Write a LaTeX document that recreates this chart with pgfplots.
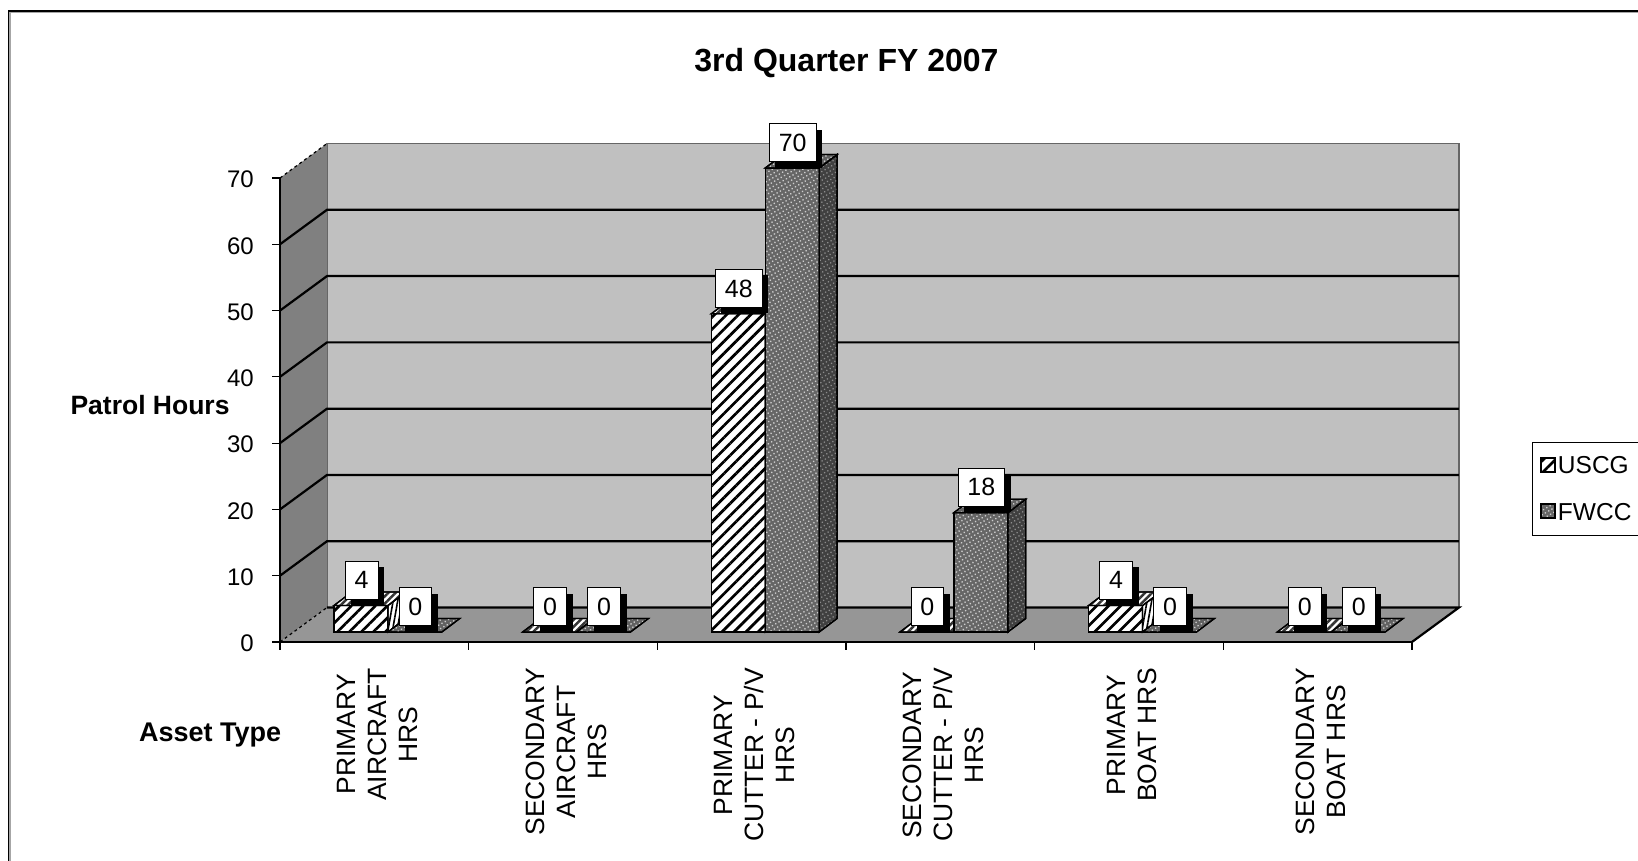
\documentclass[border=0pt]{standalone}
\usepackage{fontspec}
\setmainfont{Liberation Sans}
\usepackage{pgfplots}
\pgfplotsset{compat=1.18}
\usetikzlibrary{patterns,patterns.meta,shadows}
\definecolor{wallback}{HTML}{C0C0C0}
\definecolor{wallleft}{HTML}{808080}
\definecolor{floorc}{HTML}{969696}
\newcommand{\tf}{\fontsize{24}{31}\selectfont}
\tikzset{
 uscgpat/.style={pattern={Lines[angle=45,distance=8.5pt,line width=2.7pt]},pattern color=black},
 fwccpat/.style={pattern={Dots[radius=0.95pt,distance=3.8pt,angle=30]},pattern color=black!20},
 fwccside/.style={pattern={Dots[radius=0.9pt,distance=3.8pt,angle=30]},pattern color=black!45},
}
\pgfplotsset{
 uf/.style={draw=black,line width=1.3pt,fill=white,postaction={uscgpat}},
 us/.style={draw=black,line width=1.3pt,fill=white,postaction={pattern={Lines[angle=80,distance=4.5pt,line width=1.6pt]},pattern color=black},forget plot,no markers},
 ut/.style={draw=black,line width=1.3pt,fill=white,postaction={pattern={Lines[angle=45,distance=5pt,line width=2.5pt]},pattern color=black!80},forget plot,no markers},
 ff/.style={draw=black,line width=1.3pt,fill=black!60,postaction={fwccpat}},
 fs/.style={draw=black,line width=1.3pt,fill=black!75,postaction={fwccside},forget plot,no markers},
 ft/.style={draw=black,line width=1.3pt,fill=black!62,postaction={fwccpat},forget plot,no markers},
 lab/.style={draw=none,no markers,forget plot,nodes near coords,
   nodes near coords style={font=\fontsize{25}{31}\selectfont,fill=white,draw=black,line width=0.8pt,anchor=south,yshift=6pt,xshift=0.5pt,
     inner xsep=9.5pt,inner ysep=0pt,minimum height=38pt,
     general shadow={fill=black,shadow xshift=6pt,shadow yshift=-6pt}}},
 legimg/.style={legend image code/.code={\draw[##1,line width=2.4pt] (0pt,-6pt) rectangle (14pt,8pt);}},
}
\begin{document}
\begin{tikzpicture}[x=1pt,y=1pt]
\path[use as bounding box] (0pt,0pt) rectangle (1638pt,861pt);
\draw[gray!70,line width=1.4pt] (10pt,0pt) -- (10pt,848.5pt) -- (1638pt,848.5pt);
\draw[black,line width=1.4pt] (8.5pt,0pt) -- (8.5pt,850pt) -- (1638pt,850pt);
% walls, floor, axes
\begin{axis}[at={(280pt,219pt)},anchor=south west,scale only axis,width=1132pt,height=464pt,
 xmin=0,xmax=6,ymin=0,ymax=70,clip=false,axis on top,
 axis x line*=bottom,axis y line*=left,
 axis line style={-,black,line width=1.6pt},
 tick align=outside,tick style={black,line width=1.2pt},
 major tick length=8pt,minor tick length=8pt,major x tick style={draw=none},
 xtick={0.5,1.5,2.5,3.5,4.5,5.5},
 minor xtick={0,1,2,3,4,5,6},
 xticklabels={{PRIMARY\\AIRCRAFT\\HRS},{SECONDARY\\AIRCRAFT\\HRS},{PRIMARY\\CUTTER - P/V\\HRS},{SECONDARY\\CUTTER - P/V\\HRS},{PRIMARY\\BOAT HRS},{SECONDARY\\BOAT HRS}},
 x tick label style={rotate=90,anchor=east,align=center,font=\fontsize{26.5}{31}\selectfont,inner sep=0pt,xshift=-18pt,yshift=-3pt},
 ytick={0,10,20,30,40,50,60,70},
 y tick label style={font=\tf,anchor=east,inner sep=0pt,xshift=-18pt,yshift=-1.5pt},
 /pgf/number format/assume math mode=true,
 title={3rd Quarter FY 2007},
 title style={font=\fontsize{32}{38}\selectfont\bfseries,at={(axis description cs:0.5004,1.235)},anchor=center},
 xlabel={Asset Type},ylabel={Patrol Hours},
 every axis x label/.style={at={(axis description cs:-0.0618,-0.2008)},anchor=center,font=\fontsize{27}{30}\selectfont\bfseries},
 every axis y label/.style={at={(axis description cs:-0.1148,0.511)},anchor=center,rotate=0,font=\fontsize{26.5}{30}\selectfont\bfseries},
]
\addplot[fill=wallback,draw=black!60,line width=1.5pt,no markers] coordinates {(0.249,5.2)(6.249,5.2)(6.249,75.2)(0.249,75.2)} --cycle;
\addplot[fill=wallleft,draw=none,no markers] coordinates {(0,0)(0.249,5.2)(0.249,75.2)(0,70)} --cycle;
\addplot[fill=floorc,draw=none,no markers] coordinates {(0,0)(6,0)(6.249,5.2)(0.249,5.2)} --cycle;
\addplot[black,line width=2.2pt,no markers] coordinates {(0,10)(0.249,15.2)(6.249,15.2)};
\addplot[black,line width=2.2pt,no markers] coordinates {(0,20)(0.249,25.2)(6.249,25.2)};
\addplot[black,line width=2.2pt,no markers] coordinates {(0,30)(0.249,35.2)(6.249,35.2)};
\addplot[black,line width=2.2pt,no markers] coordinates {(0,40)(0.249,45.2)(6.249,45.2)};
\addplot[black,line width=2.2pt,no markers] coordinates {(0,50)(0.249,55.2)(6.249,55.2)};
\addplot[black,line width=2.2pt,no markers] coordinates {(0,60)(0.249,65.2)(6.249,65.2)};
\addplot[black,line width=1.2pt,dashed,no markers] coordinates {(0,70)(0.249,75.2)};
\addplot[black,line width=1.2pt,dashed,no markers] coordinates {(0,0)(0.249,5.2)};
\addplot[black,line width=2.2pt,no markers] coordinates {(0.249,5.2)(6.249,5.2)(6,0)};
\end{axis}
% bars: same scale, sitting 13.6 px right and 10 px up, on the floor
\begin{axis}[at={(293.6pt,229pt)},anchor=south west,scale only axis,width=1132pt,height=464pt,
 xmin=0,xmax=6,ymin=0,ymax=70,clip=false,hide axis,
 /pgf/number format/assume math mode=true,
 legend style={at={(axis description cs:1.094,0.409)},anchor=north west,draw=black,line width=1.2pt,
   font=\fontsize{24.5}{31}\selectfont,cells={anchor=west},inner xsep=7pt,inner ysep=12pt,row sep=23.5pt,fill=white,
   legend cell align=left,/tikz/every even column/.append style={column sep=4pt}},
]
% USCG
\addplot[ybar,bar width=54pt,uf,legimg] coordinates {(0.357,4)(1.357,0)(2.357,48)(3.357,0)(4.357,4)(5.357,0)};
\addlegendentry{USCG\hspace{20pt}}
\addplot[us] coordinates {(0.5,0)(0.595,2.036)(0.595,6.036)(0.5,4)} --cycle;
\addplot[us] coordinates {(2.5,0)(2.595,2.036)(2.595,50.036)(2.5,48)} --cycle;
\addplot[us] coordinates {(4.5,0)(4.595,2.036)(4.595,6.036)(4.5,4)} --cycle;
\addplot[ut] coordinates {(0.214,4)(0.5,4)(0.595,6.036)(0.309,6.036)} --cycle;
\addplot[ut] coordinates {(1.214,0)(1.5,0)(1.595,2.036)(1.309,2.036)} --cycle;
\addplot[ut] coordinates {(2.214,48)(2.5,48)(2.595,50.036)(2.309,50.036)} --cycle;
\addplot[ut] coordinates {(3.214,0)(3.5,0)(3.595,2.036)(3.309,2.036)} --cycle;
\addplot[ut] coordinates {(4.214,4)(4.5,4)(4.595,6.036)(4.309,6.036)} --cycle;
\addplot[ut] coordinates {(5.214,0)(5.5,0)(5.595,2.036)(5.309,2.036)} --cycle;
% FWCC
\addplot[ybar,bar width=54pt,ff,legimg] coordinates {(0.643,0)(1.643,0)(2.643,70)(3.643,18)(4.643,0)(5.643,0)};
\addlegendentry{FWCC}
\addplot[fs] coordinates {(2.786,0)(2.881,2.036)(2.881,72.036)(2.786,70)} --cycle;
\addplot[fs] coordinates {(3.786,0)(3.881,2.036)(3.881,20.036)(3.786,18)} --cycle;
\addplot[ft] coordinates {(0.5,0)(0.786,0)(0.881,2.036)(0.595,2.036)} --cycle;
\addplot[ft] coordinates {(1.5,0)(1.786,0)(1.881,2.036)(1.595,2.036)} --cycle;
\addplot[ft] coordinates {(2.5,70)(2.786,70)(2.881,72.036)(2.595,72.036)} --cycle;
\addplot[ft] coordinates {(3.5,18)(3.786,18)(3.881,20.036)(3.595,20.036)} --cycle;
\addplot[ft] coordinates {(4.5,0)(4.786,0)(4.881,2.036)(4.595,2.036)} --cycle;
\addplot[ft] coordinates {(5.5,0)(5.786,0)(5.881,2.036)(5.595,2.036)} --cycle;
% data labels
\addplot[lab] coordinates {(0.357,4)(1.357,0)(2.357,48)(3.357,0)(4.357,4)(5.357,0)};
\addplot[lab] coordinates {(0.643,0)(1.643,0)(2.643,70)(3.643,18)(4.643,0)(5.643,0)};
\end{axis}
\end{tikzpicture}
\end{document}
